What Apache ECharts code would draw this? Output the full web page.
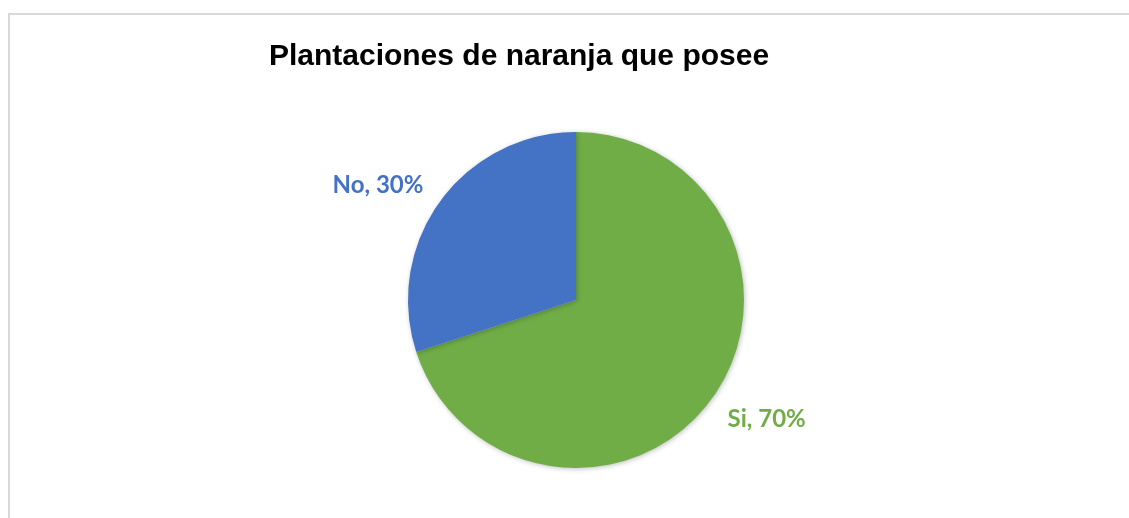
<!DOCTYPE html>
<html>
<head>
<meta charset="utf-8">
<script src="https://cdn.jsdelivr.net/npm/echarts@6/dist/echarts.min.js"></script>
<style>
  html, body { margin: 0; padding: 0; background: #fff; }
  #chart { width: 1129px; height: 518px; }
</style>
</head>
<body>
<div id="chart"></div>
<script>
// datos del grafico
const categories = ['Si', 'No'];
const values = [70, 30];
const sliceColors = ['#70ad47', '#4472c4'];

const chart = echarts.init(document.getElementById('chart'));

const pieData = categories.map(function (name, i) {
    return {
        name: name,
        value: values[i],
        itemStyle: {color: sliceColors[i]},
        label: {color: sliceColors[i]}
    };
});

chart.setOption({
    backgroundColor: '#ffffff',
    animation: false,
    title: {
        text: 'Plantaciones de naranja que posee',
        left: 514,
        top: 37,
        textAlign: 'center',
        textStyle: {
            fontFamily: '"Liberation Sans", Arial, sans-serif',
            fontWeight: 'bold',
            fontSize: 30,
            color: '#000000'
        }
    },
    graphic: [{
        type: 'rect',
        silent: true,
        shape: {x: 9, y: 14, width: 1300, height: 700},
        style: {fill: 'none', stroke: '#d9d9d9', lineWidth: 2}
    }],
    series: [{
        name: 'Plantaciones',
        type: 'pie',
        center: [576, 300],
        radius: 168,
        startAngle: 90,
        clockwise: true,
        avoidLabelOverlap: false,
        data: pieData,
        itemStyle: {
            borderWidth: 0,
            shadowBlur: 5,
            shadowColor: 'rgba(0, 0, 0, 0.25)',
            shadowOffsetX: 1,
            shadowOffsetY: 1
        },
        label: {
            show: true,
            position: 'outside',
            formatter: '{b}, {d}%',
            fontFamily: 'Lato, "Open Sans", sans-serif',
            fontWeight: 'bold',
            fontSize: 24
        },
        labelLine: {
            show: false,
            length: 28,
            length2: 0
        },
        // ajuste fino de las etiquetas como en Excel
        labelLayout: function (params) {
            return params.dataIndex === 0 ? {dx: -12, dy: 4} : {dx: 11, dy: 0};
        },
        emphasis: {disabled: true}
    }]
});
</script>
</body>
</html>
